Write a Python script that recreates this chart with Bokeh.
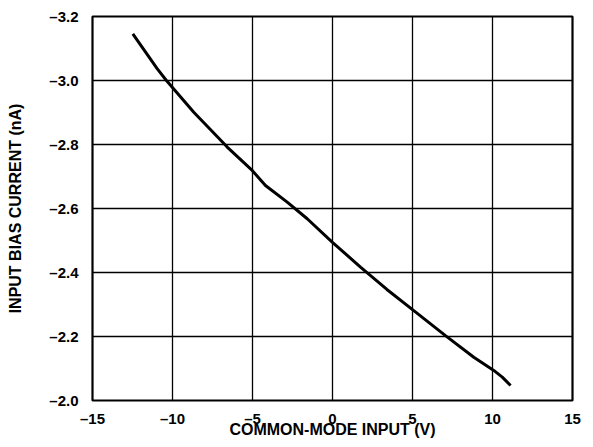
from bokeh.plotting import figure
from bokeh.models import Range1d, FixedTicker, CustomJSTickFormatter
from bokeh.embed import file_html
from bokeh.resources import INLINE

# data
cm_input_v = [-12.48, -10.96, -10.38, -8.67, -6.58, -5.02, -4.19, -2.83, -1.58,
              -0.02, 1.75, 3.4, 5.08, 7.08, 8.83, 10.08, 10.61, 11.13]
bias_current_na = [-3.146, -3.037, -3.0, -2.901, -2.792, -2.719, -2.672, -2.620, -2.568,
                   -2.495, -2.417, -2.347, -2.281, -2.202, -2.135, -2.094, -2.073, -2.047]

x_ticks = [-15, -10, -5, 0, 5, 10, 15]
x_tick_labels = ["\u201315", "\u201310", "\u20135", "0", "5", "10", "15"]
y_ticks = [-3.2, -3.0, -2.8, -2.6, -2.4, -2.2, -2.0]
y_tick_labels = ["\u20133.2", "\u20133.0", "\u20132.8", "\u20132.6", "\u20132.4", "\u20132.2", "\u20132.0"]

FONT = "Liberation Sans"

p = figure(width=585, height=445, output_backend="svg", toolbar_location=None,
           x_range=Range1d(-15, 15), y_range=Range1d(-2.0, -3.2),
           min_border_left=92, min_border_right=13, min_border_top=16, min_border_bottom=45)

p.line(cm_input_v, bias_current_na, line_width=3, line_color="black")

fmt_code = """
let best = 0, bd = Infinity;
for (let i = 0; i < ticks_.length; i++) {
  const d = Math.abs(ticks_[i] - tick);
  if (d < bd) { bd = d; best = i; }
}
return labels[best];
"""
p.xaxis.ticker = FixedTicker(ticks=x_ticks)
p.yaxis.ticker = FixedTicker(ticks=y_ticks)
p.xaxis.formatter = CustomJSTickFormatter(args=dict(ticks_=x_ticks, labels=x_tick_labels), code=fmt_code)
p.yaxis.formatter = CustomJSTickFormatter(args=dict(ticks_=y_ticks, labels=y_tick_labels), code=fmt_code)

p.xaxis.axis_label = "COMMON-MODE INPUT (V)"
p.yaxis.axis_label = "INPUT BIAS CURRENT (nA)"

for ax in (p.xaxis, p.yaxis):
    ax.axis_line_color = None
    ax.major_tick_line_color = None
    ax.minor_tick_line_color = None
    ax.major_label_text_font = FONT
    ax.major_label_text_font_style = "bold"
    ax.major_label_text_font_size = "15px"
    ax.major_label_text_color = "black"
    ax.axis_label_text_font = FONT
    ax.axis_label_text_font_style = "bold"
    ax.axis_label_text_font_size = "16px"
    ax.axis_label_text_color = "black"

p.yaxis.major_label_standoff = 8
p.yaxis.axis_label_standoff = 22
p.xaxis.major_label_standoff = 3
p.xaxis.axis_label_standoff = -9

p.grid.grid_line_color = "black"
p.grid.grid_line_width = 1.3
p.grid.grid_line_alpha = 1.0

p.outline_line_color = "black"
p.outline_line_width = 2.2
p.outline_line_alpha = 1.0
p.background_fill_color = "white"
p.border_fill_color = "white"

open("out.html", "w").write(file_html(p, INLINE))
